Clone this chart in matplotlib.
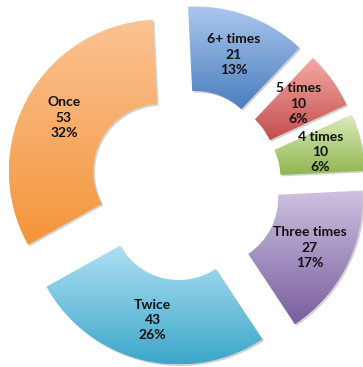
import numpy as np
import matplotlib
matplotlib.use("Agg")
import matplotlib.pyplot as plt
from matplotlib.colors import LinearSegmentedColormap
from matplotlib.patches import Wedge

# Survey answers: how often
categories = ["6+ times", "5 times", "4 times", "Three times", "Twice", "Once"]
counts = [21, 10, 10, 27, 43, 53]
percent_labels = ["13%", "6%", "6%", "17%", "26%", "32%"]

# Vertical gradient for each ring segment (top colour, bottom colour)
top_colors = ["#abc7ee", "#f4aaa7", "#dbecbb", "#cdc2e1", "#aee0f4", "#fbc394"]
bottom_colors = ["#4a7ebf", "#c24f4c", "#90b650", "#7a5d9e", "#3da7c9", "#f4953a"]

W, H = 363, 367
fig = plt.figure(figsize=(W / 100, H / 100), dpi=100)
ax = fig.add_axes([0, 0, 1, 1])

outer_px = 151.5
inner_px = 67.0
cx_px, cy_px = 185.5, 185.0
hole = inner_px / outer_px

labels = [f"{c}\n{n}\n{p}" for c, n, p in zip(categories, counts, percent_labels)]

wedges, texts = ax.pie(
    counts,
    labels=labels,
    startangle=92.8,
    counterclock=False,
    explode=[0.19] * len(counts),
    radius=1.0,
    labeldistance=0.728,
    wedgeprops=dict(width=1 - hole, linewidth=0),
    textprops=dict(fontsize=10, fontweight="bold", family=["Lato", "DejaVu Sans"],
                   color="#111111"),
)

for w, c_top, c_bot in zip(wedges, top_colors, bottom_colors):
    # soft drop shadow
    sh = Wedge((w.center[0] + 1.6 / outer_px, w.center[1] - 1.6 / outer_px), w.r,
               w.theta1, w.theta2, width=w.width, facecolor="#000000",
               alpha=0.18, linewidth=0, zorder=0.5)
    ax.add_patch(sh)
    ext = w.get_path().get_extents()
    cmap = LinearSegmentedColormap.from_list("g", [c_top, c_bot])
    grad = np.linspace(0, 1, 256).reshape(-1, 1)
    im = ax.imshow(grad, cmap=cmap, extent=(ext.x0, ext.x1, ext.y0, ext.y1),
                   origin="upper", aspect="auto", interpolation="bicubic", zorder=1)
    im.set_clip_path(w)
    w.set_facecolor("none")
    w.set_zorder(1.5)

for t in texts:
    t.set_horizontalalignment("center")
    t.set_verticalalignment("center")
    t.set_multialignment("center")
    t.set_linespacing(1.33)
    t.set_zorder(5)

ax.set_aspect("auto")
ax.set_xlim(-cx_px / outer_px, (W - cx_px) / outer_px)
ax.set_ylim(-(H - cy_px) / outer_px, cy_px / outer_px)
ax.axis("off")

fig.savefig("out.png", dpi=100, facecolor="white")
